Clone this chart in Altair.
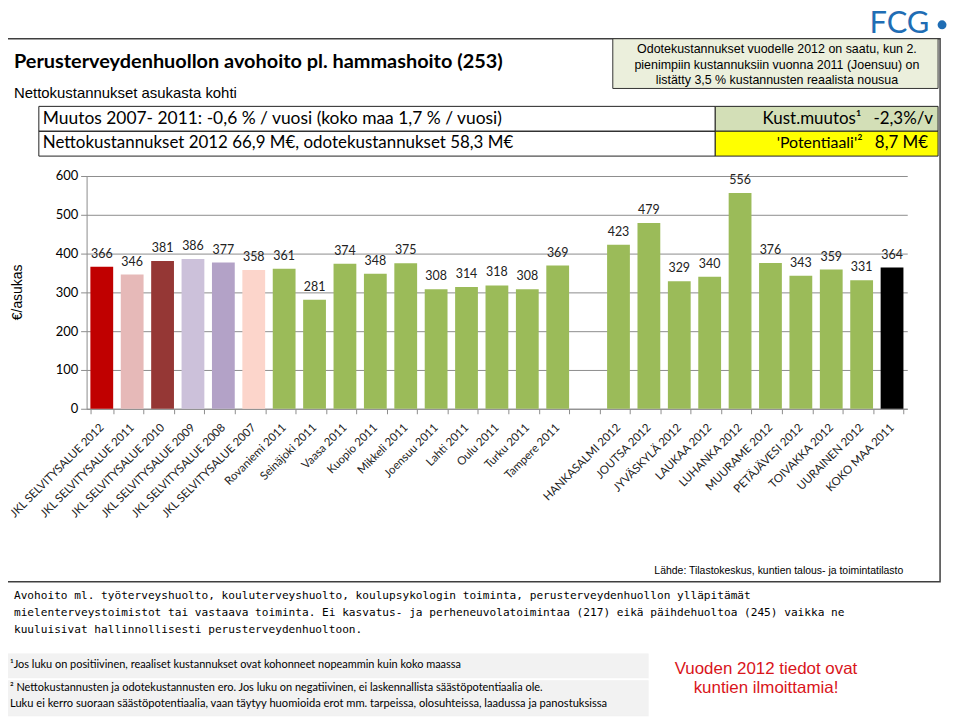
import altair as alt
import pandas as pd

categories = [
    "JKL SELVITYSALUE 2012", "JKL SELVITYSALUE 2011", "JKL SELVITYSALUE 2010",
    "JKL SELVITYSALUE 2009", "JKL SELVITYSALUE 2008", "JKL SELVITYSALUE 2007",
    "Rovaniemi 2011", "Seinäjoki 2011", "Vaasa 2011", "Kuopio 2011", "Mikkeli 2011",
    "Joensuu 2011", "Lahti 2011", "Oulu 2011", "Turku 2011", "Tampere 2011",
    " ",
    "HANKASALMI 2012", "JOUTSA 2012", "JYVÄSKYLÄ 2012", "LAUKAA 2012", "LUHANKA 2012",
    "MUURAME 2012", "PETÄJÄVESI 2012", "TOIVAKKA 2012", "UURAINEN 2012", "KOKO MAA 2011",
]
values = [366, 346, 381, 386, 377, 358, 361, 281, 374, 348, 375, 308, 314, 318, 308, 369,
          None, 423, 479, 329, 340, 556, 376, 343, 359, 331, 364]
bar_colors = ["#C00000", "#E6B9B8", "#953735", "#CCC1DA", "#B3A2C7", "#FCD5CB"] + \
             ["#9BBB59"] * 10 + ["#FFFFFF"] + ["#9BBB59"] * 9 + ["#000000"]
y_ticks = [0, 100, 200, 300, 400, 500, 600]

OX, OY = 87, 175
W, H = 825, 234


def px(x):
    return x - OX


def py(y):
    return y - OY


blank = alt.Data(values=[{"k": 1}])


def txt(s, x, y, size, font="Lato", weight="normal", color="#000000", align="left",
        angle=0, baseline="middle"):
    return alt.Chart(blank).mark_text(
        text=s, fontSize=size, font=font, fontWeight=weight, color=color,
        align=align, baseline=baseline, angle=angle
    ).encode(x=alt.value(px(x)), y=alt.value(py(y)))


def box(x1, y1, x2, y2, fill="#FFFFFF", fill_opacity=1, stroke="#333333", sw=1.0):
    return alt.Chart(blank).mark_rect(
        fill=fill, fillOpacity=fill_opacity, stroke=stroke, strokeWidth=sw
    ).encode(x=alt.value(px(x1)), x2=alt.value(px(x2)),
             y=alt.value(py(y1)), y2=alt.value(py(y2)))


df = pd.DataFrame({"kunta": categories, "arvo": values})

xenc = alt.X(
    "kunta:N", sort=categories,
    scale=alt.Scale(domain=categories, paddingInner=0.25, paddingOuter=0.125),
    axis=alt.Axis(title=None, labelAngle=-45, labelAlign="right", labelBaseline="middle",
                  labelFont="Lato", labelFontSize=11.5, labelColor="#222222",
                  labelPadding=12, tickBand="extent", tickSize=5, tickColor="#8C8C8C",
                  domainColor="#8C8C8C", grid=False, labelOverlap=False),
)
yenc = alt.Y(
    "arvo:Q", scale=alt.Scale(domain=[0, 600], nice=False),
    axis=alt.Axis(title=None, values=y_ticks, labelFont="Lato", labelFontSize=13,
                  labelColor="#000000", labelPadding=3, tickSize=6, tickColor="#8C8C8C",
                  domainColor="#8C8C8C", gridColor="#8C8C8C", gridWidth=1,
                  labelOverlap=False),
)

bars = alt.Chart(df).mark_bar().encode(
    x=xenc, y=yenc,
    color=alt.Color("kunta:N", scale=alt.Scale(domain=categories, range=bar_colors), legend=None),
)
labels = alt.Chart(df).transform_filter("datum.arvo != null").mark_text(
    dy=-13, font="Lato", fontSize=12.5, color="#222222", baseline="middle"
).encode(x=xenc, y=yenc, text=alt.Text("arvo:Q", format=".0f"))

narrow = "Liberation Sans Narrow, Liberation Sans"
mono = "DejaVu Sans Mono"

layers = [
    # boxes
    box(2, 37, 945, 583, fill_opacity=0, stroke="#3F3F3F", sw=1.5),
    box(616, 37, 943, 87, fill="#EBEFDC", stroke="#333333"),
    box(39, 105, 719, 130, fill_opacity=0, stroke="#222222"),
    box(39, 130, 719, 155, fill_opacity=0, stroke="#222222"),
    box(719, 105, 943, 130, fill="#D3DFB7", stroke="#222222"),
    box(719, 130, 943, 155, fill="#FFFF00", stroke="#222222"),
    box(2, 655, 652, 680, fill="#F2F2F2", stroke="#F2F2F2", sw=0.1),
    box(2, 682, 652, 718, fill="#F2F2F2", stroke="#F2F2F2", sw=0.1),
    # chart
    bars,
    labels,
    # texts
    txt("Perusterveydenhuollon  avohoito pl. hammashoito  (253)", 14, 60, 20, weight="bold"),
    txt("Nettokustannukset  asukasta kohti", 14, 92, 15, font=narrow),
    txt("Muutos 2007- 2011: -0,6 % / vuosi (koko maa 1,7 % / vuosi)", 43, 118, 17.5),
    txt("Nettokustannukset 2012 66,9 M€, odotekustannukset 58,3 M€", 43, 142, 17),
    txt("Odotekustannukset vuodelle 2012 on saatu, kun 2.", 781, 47, 12.5, font=narrow, align="center"),
    txt("pienimpiin kustannuksiin vuonna 2011 (Joensuu) on", 781, 63, 12.5, font=narrow, align="center"),
    txt("listätty 3,5 % kustannusten reaalista nousua", 781, 79, 12.5, font=narrow, align="center"),
    txt("Kust.muutos¹", 866, 118, 17, align="right"),
    txt("-2,3%/v", 938, 118, 17, align="right"),
    txt("'Potentiaali'²", 867, 142, 16, align="right"),
    txt("8,7 M€", 933, 142, 17, align="right"),
    txt("FCG", 874, 31, 31, color="#1F6DB4", baseline="alphabetic"),
    alt.Chart(blank).mark_circle(color="#1F6DB4", opacity=1).encode(
        x=alt.value(px(947)), y=alt.value(py(23)), size=alt.value(80)),
    txt("€/asukas", 18, 292, 14, font="Liberation Sans", align="center", angle=270),
    txt("Lähde: Tilastokeskus, kuntien talous- ja toimintatilasto", 908, 572, 10.5, font=narrow, align="right"),
    txt("Avohoito ml. työterveyshuolto, kouluterveyshuolto, koulupsykologin toiminta, perusterveydenhuollon ylläpitämät",
        14, 597, 11.2, font=mono),
    txt("mielenterveystoimistot tai vastaava toiminta. Ei kasvatus- ja perheneuvolatoimintaa (217) eikä päihdehuoltoa (245) vaikka ne",
        14, 614, 11.2, font=mono),
    txt("kuuluisivat hallinnollisesti perusterveydenhuoltoon.", 14, 631, 11.2, font=mono),
    txt("¹Jos luku on positiivinen, reaaliset kustannukset ovat kohonneet nopeammin kuin koko maassa",
        10, 667, 11),
    txt("² Nettokustannusten ja odotekustannusten ero. Jos luku on negatiivinen, ei laskennallista säästöpotentiaalia ole.",
        10, 690, 11),
    txt("Luku ei kerro suoraan säästöpotentiaalia, vaan täytyy huomioida erot mm. tarpeissa, olosuhteissa, laadussa ja panostuksissa",
        10, 706, 11.2),
    txt("Vuoden 2012 tiedot ovat", 770, 671, 17, font="Liberation Sans", color="#D9151B", align="center"),
    txt("kuntien ilmoittamia!", 770, 690, 17, font="Liberation Sans", color="#D9151B", align="center"),
]

chart = alt.layer(*layers).properties(
    width=W, height=H,
    padding={"left": OX - 8, "top": OY - 8, "right": 45, "bottom": 713 - (OY - 8) - H},
    autosize=alt.AutoSizeParams(type="none"),
    background="#FFFFFF",
).configure_view(stroke=None)

chart.save("out.html", embed_options={"renderer": "svg", "actions": False})
